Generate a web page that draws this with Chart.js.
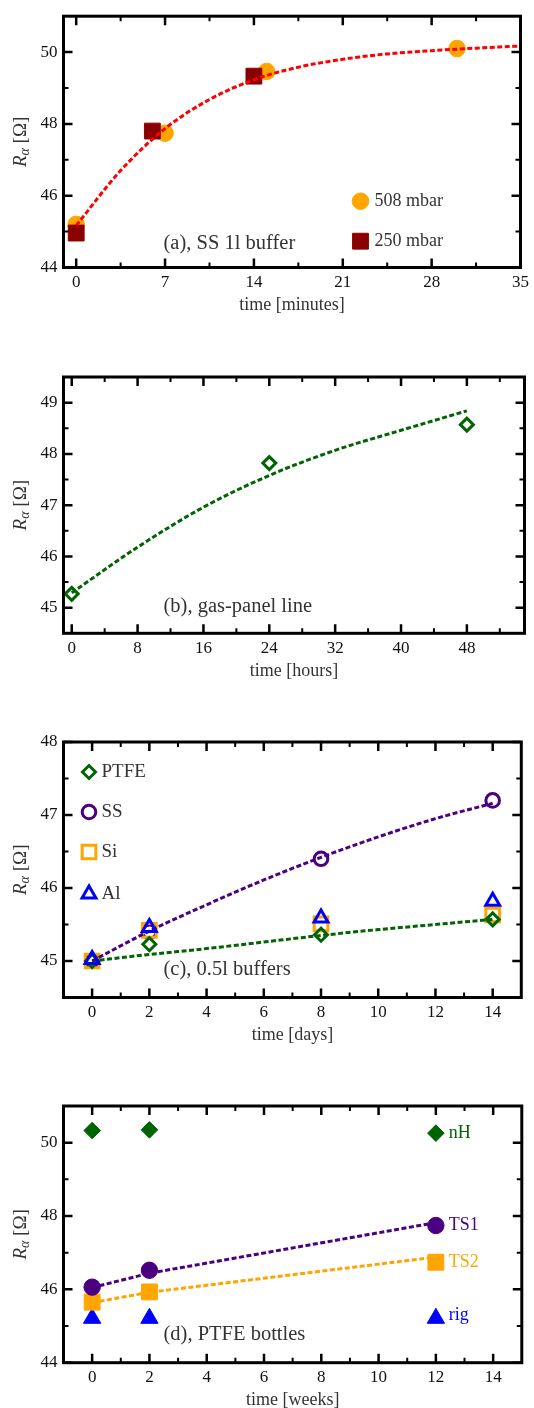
<!DOCTYPE html>
<html>
<head>
<meta charset="utf-8">
<script src="https://cdn.jsdelivr.net/npm/chart.js@4.4.1/dist/chart.umd.min.js"></script>
<style>
  html, body { margin: 0; padding: 0; background: #ffffff; }
  body { width: 534px; height: 1408px; position: relative; overflow: hidden; }
  canvas { position: absolute; left: 0; }
</style>
</head>
<body>
<canvas id="pa" width="534" height="340" style="top:0px"></canvas>
<canvas id="pb" width="534" height="350" style="top:340px"></canvas>
<canvas id="pc" width="534" height="360" style="top:700px"></canvas>
<canvas id="pd" width="534" height="338" style="top:1070px"></canvas>
<script>
// ---------------- Panel (a): SS 1l buffer ----------------
const aTime508 = [0, 7, 15, 30];
const aR508    = [45.20, 47.74, 49.46, 50.10];
const aTime250 = [0, 6, 14];
const aR250    = [44.96, 47.80, 49.33];
const aFitTime = [0, 3.5, 7, 10.5, 14, 17.5, 21, 24.5, 28, 31.5, 35];
const aFitR    = [45.17, 46.70, 47.87, 48.68, 49.23, 49.58, 49.80, 49.95, 50.04, 50.11, 50.17];
const aXTicks  = [0, 7, 14, 21, 28, 35];
const aXMinor  = [3.5, 10.5, 17.5, 24.5, 31.5];
const aYTicks  = [44, 46, 48, 50];
const aYMinor  = [45, 47, 49];

// ---------------- Panel (b): gas-panel line ----------------
const bTime    = [0, 24, 48];
const bR       = [45.27, 47.82, 48.57];
const bFitTime = [0, 8, 16, 24, 32, 40, 48];
const bFitR    = [45.29, 46.18, 46.96, 47.58, 48.07, 48.46, 48.84];
const bXTicks  = [0, 8, 16, 24, 32, 40, 48];
const bXMinor  = [4, 12, 20, 28, 36, 44, 52];
const bYTicks  = [45, 46, 47, 48, 49];
const bYMinor  = [45.5, 46.5, 47.5, 48.5, 49.5];

// ---------------- Panel (c): 0.5l buffers ----------------
const cDays     = [0, 2, 8, 14];
const cPTFE     = [45.00, 45.23, 45.36, 45.57];
const cSS       = [45.00, 45.40, 46.40, 47.20];
const cSi       = [45.00, 45.42, 45.51, 45.63];
const cAl       = [45.02, 45.46, 45.59, 45.82];
const cFitDays  = [0, 2, 4, 6, 8, 10, 12, 14];
const cFitSS    = [45.00, 45.41, 45.77, 46.11, 46.42, 46.70, 46.95, 47.16];
const cFitPTFE  = [45.00, 45.09, 45.17, 45.26, 45.35, 45.43, 45.50, 45.57];
const cXTicks   = [0, 2, 4, 6, 8, 10, 12, 14];
const cXMinor   = [1, 3, 5, 7, 9, 11, 13];
const cYTicks   = [45, 46, 47, 48];
const cYMinor   = [45.5, 46.5, 47.5];

// ---------------- Panel (d): PTFE bottles ----------------
const dWeeks   = [0, 2, 12];
const dNH      = [50.33, 50.35, 50.26];
const dTS1     = [46.06, 46.52, 47.74];
const dTS2     = [45.65, 45.93, 46.74];
const dRig     = [45.21, 45.21, 45.21];
const dFitTS1  = [46.05, 46.44, 47.82];
const dFitTS2  = [45.64, 45.92, 46.88];
const dXTicks  = [0, 2, 4, 6, 8, 10, 12, 14];
const dXMinor  = [1, 3, 5, 7, 9, 11, 13];
const dYTicks  = [44, 46, 48, 50];
const dYMinor  = [45, 47, 49];

// ---------------- colours / fonts ----------------
const ORANGE = '#FFA500', DARKRED = '#8B0000', RED = '#FF0000';
const GREEN = '#006400', INDIGO = '#4B0082', BLUE = '#0000FF';
const TXT = '#333333';
const FONT = "'Liberation Serif', 'Times New Roman', 'DejaVu Serif', serif";

function pts(xs, ys) { return xs.map((x, i) => ({ x: x, y: ys[i] })); }

function markerSet(label, xs, ys, style, r, color, open) {
  return {
    label: label, data: pts(xs, ys), showLine: false,
    pointStyle: style, pointRadius: r, pointHoverRadius: r,
    pointBackgroundColor: open ? 'rgba(0,0,0,0)' : color,
    pointBorderColor: color, pointBorderWidth: open ? 3 : 1,
    borderColor: color, backgroundColor: color
  };
}
function fitSet(label, xs, ys, color, tension) {
  return {
    label: label, data: pts(xs, ys), showLine: true,
    borderColor: color, borderWidth: 3, borderDash: [5, 2.5],
    pointRadius: 0, pointHoverRadius: 0, tension: tension,
    cubicInterpolationMode: tension > 0 ? 'monotone' : 'default', fill: false
  };
}

function drawMarker(ctx, style, r, color, open, x, y) {
  ctx.save();
  ctx.fillStyle = open ? 'rgba(0,0,0,0)' : color;
  ctx.strokeStyle = color;
  ctx.lineWidth = open ? 3 : 1;
  ctx.beginPath();
  if (style === 'circle') {
    ctx.arc(x, y, r, 0, Math.PI * 2);
  } else if (style === 'rect') {
    const s = r * Math.SQRT1_2;
    ctx.rect(x - s, y - s, 2 * s, 2 * s);
  } else if (style === 'rectRot') {
    ctx.moveTo(x, y - r); ctx.lineTo(x + r, y); ctx.lineTo(x, y + r); ctx.lineTo(x - r, y); ctx.closePath();
  } else if (style === 'triangle') {
    const hw = r * Math.sqrt(3) / 2;
    ctx.moveTo(x, y - r);
    ctx.lineTo(x + hw, y + r / 2);
    ctx.lineTo(x - hw, y + r / 2);
    ctx.closePath();
  }
  ctx.fill();
  ctx.stroke();
  ctx.restore();
}

const decoPlugin = {
  id: 'deco',
  afterDraw(chart, args, o) {
    const ctx = chart.ctx, a = chart.chartArea, xs = chart.scales.x, ys = chart.scales.y;
    ctx.save();
    ctx.strokeStyle = '#000';
    ctx.lineCap = 'butt';
    function xt(vals, len, lw) {
      ctx.lineWidth = lw;
      vals.forEach(v => {
        const px = xs.getPixelForValue(v);
        ctx.beginPath();
        ctx.moveTo(px, a.bottom); ctx.lineTo(px, a.bottom - len);
        ctx.moveTo(px, a.top); ctx.lineTo(px, a.top + len);
        ctx.stroke();
      });
    }
    function yt(vals, len, lw) {
      ctx.lineWidth = lw;
      vals.forEach(v => {
        const py = ys.getPixelForValue(v);
        ctx.beginPath();
        ctx.moveTo(a.left, py); ctx.lineTo(a.left + len, py);
        ctx.moveTo(a.right, py); ctx.lineTo(a.right - len, py);
        ctx.stroke();
      });
    }
    xt(o.xMajor, 9, 2.5); xt(o.xMinor, 5, 2);
    yt(o.yMajor, 9, 2.5); yt(o.yMinor, 5, 2);
    ctx.lineWidth = 3;
    ctx.strokeRect(a.left, a.top, a.right - a.left, a.bottom - a.top);

    // x-axis title
    ctx.fillStyle = TXT;
    ctx.font = '18px ' + FONT;
    ctx.textAlign = 'center';
    ctx.textBaseline = 'middle';
    ctx.fillText(o.xTitle, (a.left + a.right) / 2, a.bottom + 38);

    // y-axis title R_alpha [Omega]
    ctx.save();
    ctx.translate(21, (a.top + a.bottom) / 2);
    ctx.rotate(-Math.PI / 2);
    ctx.textAlign = 'left';
    ctx.textBaseline = 'middle';
    const f1 = 'italic 19px ' + FONT, f2 = 'italic 14px ' + FONT, f3 = '19px ' + FONT;
    ctx.font = f1; const w1 = ctx.measureText('R').width;
    ctx.font = f2; const w2 = ctx.measureText('α').width;
    ctx.font = f3; const w3 = ctx.measureText(' [Ω]').width;
    let sx = -(w1 + w2 + w3) / 2;
    ctx.font = f1; ctx.fillText('R', sx, 0); sx += w1;
    ctx.font = f2; ctx.fillText('α', sx, 4); sx += w2;
    ctx.font = f3; ctx.fillText(' [Ω]', sx, 0);
    ctx.restore();

    // panel annotation
    ctx.textAlign = 'left';
    ctx.font = '20.5px ' + FONT;
    ctx.fillStyle = TXT;
    ctx.fillText(o.note, a.left + o.noteDx, a.top + o.noteDy);

    // legend entries (pixel offsets from the plot corner)
    (o.legend || []).forEach(e => {
      drawMarker(ctx, e.style, e.r, e.color, e.open, a.left + e.dx, a.top + e.dy);
      ctx.font = (e.size || 18) + 'px ' + FONT;
      ctx.fillStyle = TXT;
      ctx.textAlign = 'left';
      ctx.textBaseline = 'middle';
      ctx.fillText(e.text, a.left + e.tx, a.top + e.dy);
    });
    // direct labels next to the last point of a series
    (o.tags || []).forEach(t => {
      const ds = chart.data.datasets[t.ds];
      const last = ds.data[ds.data.length - 1];
      ctx.font = '18px ' + FONT;
      ctx.fillStyle = t.color;
      ctx.textAlign = 'left';
      ctx.textBaseline = 'middle';
      ctx.fillText(t.text, xs.getPixelForValue(last.x) + 13, ys.getPixelForValue(last.y) + t.dy);
    });
    ctx.restore();
  }
};

function makePanel(id, p) {
  return new Chart(document.getElementById(id), {
    type: 'scatter',
    data: { datasets: p.datasets },
    options: {
      responsive: false, animation: false, devicePixelRatio: 1,
      layout: { padding: { top: p.top, right: 9, left: 0, bottom: 0 } },
      plugins: { legend: { display: false }, tooltip: { enabled: false }, deco: p.deco },
      scales: {
        x: {
          type: 'linear', min: p.xMin, max: p.xMax,
          grid: { display: false, drawTicks: false }, border: { display: false },
          ticks: { padding: 5, color: '#111', font: { family: FONT, size: 17 }, maxRotation: 0, autoSkip: false,
                   callback: (v, i) => String(p.deco.xMajor[i]) },
          afterBuildTicks: s => { s.ticks = p.deco.xMajor.map(v => ({ value: v })); },
          afterFit: s => { s.height = p.H - p.bottom; }
        },
        y: {
          type: 'linear', min: p.yMin, max: p.yMax,
          grid: { display: false, drawTicks: false }, border: { display: false },
          ticks: { padding: 6, color: '#111', font: { family: FONT, size: 17 }, autoSkip: false,
                   callback: (v, i) => String(p.deco.yMajor[i]) },
          afterBuildTicks: s => { s.ticks = p.deco.yMajor.map(v => ({ value: v })); },
          afterFit: s => { s.width = 63.5; }
        }
      }
    },
    plugins: [decoPlugin]
  });
}

// (a)
makePanel('pa', {
  H: 340, top: 14, bottom: 267.5, xMin: -1, xMax: 35, yMin: 44, yMax: 51,
  datasets: [
    fitSet('fit', aFitTime, aFitR, RED, 0.4),
    markerSet('250 mbar', aTime250, aR250, 'rect', 11.2, DARKRED, false),
    markerSet('508 mbar', aTime508, aR508, 'circle', 8.3, ORANGE, false)
  ],
  deco: {
    xMajor: aXTicks, xMinor: aXMinor, yMajor: aYTicks, yMinor: aYMinor,
    xTitle: 'time [minutes]', note: '(a), SS 1l buffer', noteDx: 100, noteDy: 227,
    legend: [
      { style: 'circle', r: 8.3, color: ORANGE, open: false, dx: 297, dy: 185, tx: 311, text: '508 mbar' },
      { style: 'rect', r: 11.2, color: DARKRED, open: false, dx: 297, dy: 225, tx: 311, text: '250 mbar' }
    ]
  }
});

// (b)
makePanel('pb', {
  H: 350, top: 37, bottom: 293.3, xMin: -1, xMax: 55, yMin: 44.5, yMax: 49.5,
  datasets: [
    fitSet('fit', bFitTime, bFitR, GREEN, 0.4),
    markerSet('gas-panel line', bTime, bR, 'rectRot', 6.5, GREEN, true)
  ],
  deco: {
    xMajor: bXTicks, xMinor: bXMinor, yMajor: bYTicks, yMinor: bYMinor,
    xTitle: 'time [hours]', note: '(b), gas-panel line', noteDx: 100, noteDy: 230
  }
});

// (c)
makePanel('pc', {
  H: 360, top: 42, bottom: 297.5, xMin: -1, xMax: 15, yMin: 44.5, yMax: 48,
  datasets: [
    markerSet('Al', cDays, cAl, 'triangle', 8, BLUE, true),
    markerSet('PTFE', cDays, cPTFE, 'rectRot', 6.5, GREEN, true),
    fitSet('SS fit', cFitDays, cFitSS, INDIGO, 0.4),
    fitSet('PTFE fit', cFitDays, cFitPTFE, GREEN, 0.4),
    markerSet('Si', cDays, cSi, 'rect', 9.7, ORANGE, true),
    markerSet('SS', cDays, cSS, 'circle', 6.8, INDIGO, true)
  ],
  deco: {
    xMajor: cXTicks, xMinor: cXMinor, yMajor: cYTicks, yMinor: cYMinor,
    xTitle: 'time [days]', note: '(c), 0.5l buffers', noteDx: 100, noteDy: 228,
    legend: [
      { style: 'rectRot', r: 6.5, color: GREEN, open: true, dx: 25.5, dy: 30, tx: 38, text: 'PTFE', size: 19 },
      { style: 'circle', r: 6.8, color: INDIGO, open: true, dx: 25.5, dy: 70, tx: 38, text: 'SS', size: 19 },
      { style: 'rect', r: 9.7, color: ORANGE, open: true, dx: 25.5, dy: 110, tx: 38, text: 'Si', size: 19 },
      { style: 'triangle', r: 8, color: BLUE, open: true, dx: 25.5, dy: 152, tx: 38, text: 'Al', size: 19 }
    ]
  }
});

// (d)
makePanel('pd', {
  H: 338, top: 36, bottom: 292.7, xMin: -1, xMax: 15, yMin: 44, yMax: 51,
  datasets: [
    markerSet('nH', dWeeks, dNH, 'rectRot', 8.3, GREEN, false),
    markerSet('TS1', dWeeks, dTS1, 'circle', 8.2, INDIGO, false),
    markerSet('TS2', dWeeks, dTS2, 'rect', 11.2, ORANGE, false),
    markerSet('rig', dWeeks, dRig, 'triangle', 10, BLUE, false),
    fitSet('TS1 fit', dWeeks, dFitTS1, INDIGO, 0),
    fitSet('TS2 fit', dWeeks, dFitTS2, ORANGE, 0)
  ],
  deco: {
    xMajor: dXTicks, xMinor: dXMinor, yMajor: dYTicks, yMinor: dYMinor,
    xTitle: 'time [weeks]', note: '(d), PTFE bottles', noteDx: 100, noteDy: 229,
    tags: [
      { ds: 0, text: 'nH', color: GREEN, dy: 0 },
      { ds: 1, text: 'TS1', color: INDIGO, dy: 0 },
      { ds: 2, text: 'TS2', color: ORANGE, dy: 0 },
      { ds: 3, text: 'rig', color: BLUE, dy: -3 }
    ]
  }
});
</script>
</body>
</html>
